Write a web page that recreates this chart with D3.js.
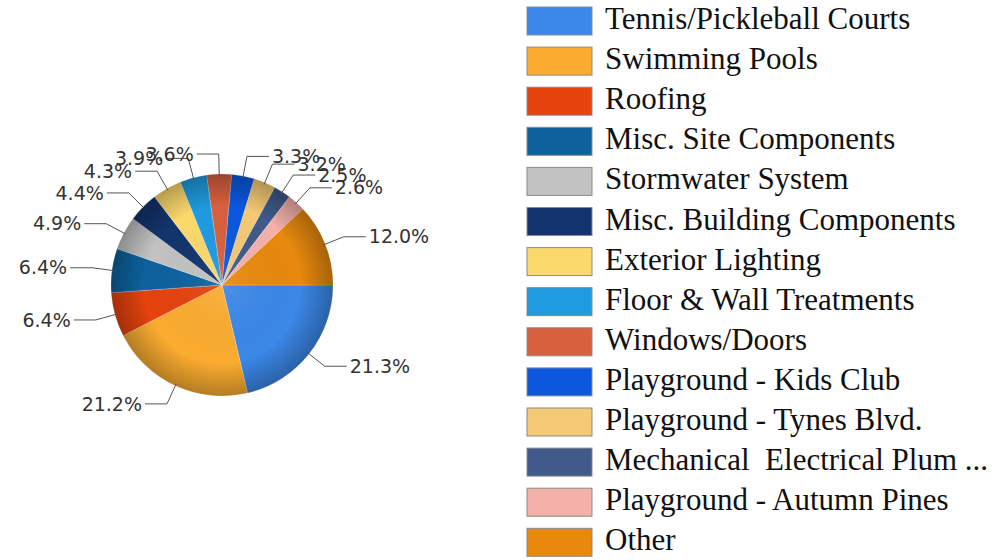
<!DOCTYPE html>
<html>
<head>
<meta charset="utf-8">
<script src="https://cdn.jsdelivr.net/npm/d3@7"></script>
<style>
  body { margin: 0; background: #fff; }
  svg { display: block; }
</style>
</head>
<body>
<div id="chart"></div>
<script>
// categories in drawing order (clockwise from 3 o'clock)
var categories = ["Tennis/Pickleball Courts", "Swimming Pools", "Roofing", "Misc. Site Components",
  "Stormwater System", "Misc. Building Components", "Exterior Lighting", "Floor & Wall Treatments",
  "Windows/Doors", "Playground - Kids Club", "Playground - Tynes Blvd.",
  "Mechanical  Electrical Plum ...", "Playground - Autumn Pines", "Other"]
// percent of total
var shares = [21.3, 21.2, 6.4, 6.4, 4.9, 4.4, 4.3, 3.9, 3.6, 3.3, 3.2, 2.5, 2.6, 12.0]
var palette = ["#3b88e8", "#fbac30", "#e5420d", "#0d629d", "#c2c2c2", "#13346c", "#fcd96c",
  "#1f9be0", "#d9603e", "#0b58df", "#f4ca74", "#3f5a8b", "#f4b1aa", "#e8890d"]

var width = 1008, height = 560
var cx = 222, cy = 285, radius = 111

var svg = d3.select("#chart").append("svg")
  .attr("width", width)
  .attr("height", height)

// shading for the pie edge
var defs = svg.append("defs")
var grad = defs.append("radialGradient").attr("id", "shade")
  .attr("cx", "50%").attr("cy", "50%").attr("r", "50%")
grad.append("stop").attr("offset", "0%").attr("stop-color", "#fff").attr("stop-opacity", 0.08)
grad.append("stop").attr("offset", "70%").attr("stop-color", "#000").attr("stop-opacity", 0)
grad.append("stop").attr("offset", "100%").attr("stop-color", "#000").attr("stop-opacity", 0.28)

var pie = d3.pie()
  .sort(null)
  .value(function(d) { return d })
  .startAngle(Math.PI / 2)
  .endAngle(Math.PI / 2 + 2 * Math.PI)

var arcs = pie(shares)
var arc = d3.arc().innerRadius(0).outerRadius(radius)

var g = svg.append("g").attr("transform", "translate(" + cx + "," + cy + ")")

g.selectAll("path.slice")
  .data(arcs)
  .enter()
  .append("path")
    .attr("class", "slice")
    .attr("d", arc)
    .attr("fill", function(d, i) { return palette[i] })
    .attr("stroke", "rgba(255,255,255,0.35)")
    .attr("stroke-width", 0.6)

g.append("circle").attr("r", radius).attr("fill", "url(#shade)")

// leader lines + labels
function pt(a, r) { return [Math.sin(a) * r, -Math.cos(a) * r] }

var labels = g.selectAll("g.lbl")
  .data(arcs)
  .enter()
  .append("g")
    .attr("class", "lbl")

labels.each(function(d, i) {
  var a = (d.startAngle + d.endAngle) / 2
  var p0 = pt(a, radius - 2)
  var p1 = pt(a, radius + 20)
  var right = Math.sin(a) >= 0
  var p2 = [p1[0] + (right ? 22 : -22), p1[1]]
  var sel = d3.select(this)
  sel.append("polyline")
    .attr("points", [p0, p1, p2].map(function(p) { return p.join(",") }).join(" "))
    .attr("fill", "none")
    .attr("stroke", "#555")
    .attr("stroke-width", 1)
  sel.append("text")
    .attr("x", p2[0] + (right ? 3 : -3))
    .attr("y", p2[1])
    .attr("dy", "0.35em")
    .attr("text-anchor", right ? "start" : "end")
    .attr("font-family", "DejaVu Sans, sans-serif")
    .attr("font-size", "19px")
    .attr("fill", "#333")
    .text(d3.format(".1f")(d.data) + "%")
})

// legend
var legendY = d3.scaleLinear().domain([0, 1]).range([7, 47.1])
var legend = svg.append("g")
var rows = legend.selectAll("g")
  .data(categories)
  .enter()
  .append("g")
    .attr("transform", function(d, i) { return "translate(527," + legendY(i) + ")" })

rows.append("rect")
  .attr("width", 65)
  .attr("height", 28)
  .attr("fill", function(d, i) { return palette[i] })
  .attr("stroke", "#8a8a8a")
  .attr("stroke-width", 1)

rows.append("text")
  .attr("x", 78)
  .attr("y", 22)
  .attr("font-family", "Liberation Serif, Times New Roman, serif")
  .attr("font-size", "31px")
  .attr("fill", "#111")
  .style("white-space", "pre")
  .text(function(d) { return d })
</script>
</body>
</html>
